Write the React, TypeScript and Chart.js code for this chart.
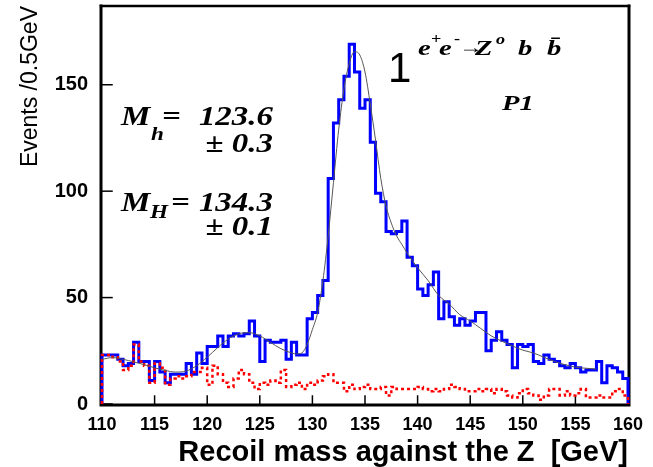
import React, { useEffect, useRef } from 'react';
import { Chart, registerables } from 'chart.js';

Chart.register(...registerables);

// ---- data ----
const BIN_START = 110;
const BIN_WIDTH = 0.5;
const X_MIN = 110;
const X_MAX = 160;
const Y_MAX = 187;
const X_STEP = 5;
const Y_STEP = 50;

// Events per 0.5 GeV bin, 110.0 ... 159.5 (signal + background, blue)
const signalCounts = [
  23, 23, 23, 21, 18, 19, 29, 20, 20, 11,
  20, 15, 10, 14, 14, 14, 19, 14, 24, 19,
  27, 27, 32, 27, 32, 33, 32, 33, 39, 32,
  20, 30, 29, 29, 30, 21, 29, 23, 23, 40,
  43, 51, 58, 106, 132, 143, 154, 169, 156, 139,
  143, 123, 99, 95, 81, 80, 81, 86, 69, 65,
  54, 51, 56, 62, 40, 48, 41, 37, 40, 37,
  39, 43, 43, 25, 30, 34, 30, 28, 17, 28,
  27, 28, 20, 19, 23, 21, 20, 18, 17, 19,
  17, 15, 16, 16, 20, 10, 18, 17, 15, 12,
];

// Background events per 0.5 GeV bin (red dotted)
const backgroundCounts = [
  23, 23, 22, 20, 16, 18, 28, 20, 18, 10,
  19, 17, 9, 12, 13, 12, 13, 15, 15, 17,
  9, 18, 14, 10, 8, 12, 16, 14, 10, 7,
  10, 9, 11, 10, 16, 8, 9, 10, 7, 10,
  9, 11, 13, 14, 10, 10, 6, 9, 7, 8,
  9, 7, 7, 8, 4, 8, 7, 7, 7, 7,
  8, 7, 6, 7, 6, 7, 9, 8, 7, 6,
  6, 7, 6, 7, 5, 7, 6, 4, 3, 5,
  7, 5, 4, 2, 4, 7, 7, 4, 6, 4,
  5, 7, 3, 3, 4, 3, 3, 6, 7, 4,
];

// Fit curve (thin line)
const fitMass = [
  110, 111, 112, 113, 114, 115, 116, 117, 118, 119,
  120, 121, 122, 123, 124, 125, 126, 127, 128, 128.5,
  129, 129.5, 130, 130.5, 131, 131.5, 132, 132.5, 133, 133.5,
  134, 134.5, 135, 135.5, 136, 136.5, 137, 137.5, 138, 138.5,
  139, 140, 141, 142, 143, 144, 145, 146, 147, 148,
  149, 150, 151, 152, 153, 154, 155, 156, 157,
];
const fitEvents = [
  21, 21.8, 21, 19.8, 18.5, 17, 15.8, 15, 15.5, 18,
  22, 26.5, 30.5, 33, 33.5, 32, 29, 26, 24, 23.5,
  24, 28, 35, 43, 58, 79, 104, 129, 148, 160,
  165.5, 164, 156, 141, 124, 106, 93, 85, 79, 75,
  71, 64, 58, 51, 47, 42, 39, 35.5, 32, 29.5,
  27.3, 25.3, 24, 22, 20, 18.5, 17.3, 16.8, 16.4,
];

const SANS = "'Liberation Sans', Arial, Helvetica, sans-serif";
const SERIF = "'Liberation Serif', 'Times New Roman', Times, serif";

function histogramPoints(counts: number[]) {
  const pts: { x: number; y: number }[] = [{ x: BIN_START, y: 0 }];
  counts.forEach((c, i) => pts.push({ x: BIN_START + i * BIN_WIDTH, y: c }));
  const end = BIN_START + counts.length * BIN_WIDTH;
  pts.push({ x: end, y: counts[counts.length - 1] });
  pts.push({ x: end, y: 0 });
  return pts;
}

const framePlugin = {
  id: 'frameAndTicks',
  beforeDatasetsDraw(chart: any) {
    const { ctx, chartArea: a, scales } = chart;
    ctx.save();
    ctx.strokeStyle = '#000';
    ctx.lineCap = 'square';
    ctx.lineWidth = 1.5;
    scales.x.ticks.forEach((t: any) => {
      const px = scales.x.getPixelForValue(t.value);
      ctx.beginPath();
      ctx.moveTo(px, a.bottom);
      ctx.lineTo(px, a.bottom - 8);
      ctx.stroke();
    });
    scales.y.ticks.forEach((t: any) => {
      const py = scales.y.getPixelForValue(t.value);
      ctx.beginPath();
      ctx.moveTo(a.left, py);
      ctx.lineTo(a.left + 10, py);
      ctx.stroke();
    });
    ctx.lineWidth = 3;
    ctx.beginPath();
    ctx.moveTo(a.left - 1, a.top);
    ctx.lineTo(a.left - 1, a.bottom + 1);
    ctx.lineTo(a.right + 1, a.bottom + 1);
    ctx.lineTo(a.right + 1, a.top);
    ctx.stroke();
    ctx.lineWidth = 2.5;
    ctx.beginPath();
    ctx.moveTo(a.left - 1, a.top);
    ctx.lineTo(a.right + 1, a.top);
    ctx.stroke();
    ctx.restore();
  },
  afterDraw(chart: any) {
    const ctx = chart.ctx;
    ctx.save();
    ctx.fillStyle = '#000';
    ctx.textBaseline = 'alphabetic';
    const put = (s: string, x: number, y: number, font: string, align: CanvasTextAlign = 'left', sx = 1) => {
      ctx.save();
      ctx.font = font;
      ctx.textAlign = align;
      ctx.translate(x, y);
      ctx.scale(sx, 1);
      ctx.fillText(s, 0, 0);
      ctx.restore();
    };
    const big = `italic bold 27px ${SERIF}`;
    const sub = `italic bold 19px ${SERIF}`;
    const S = 1.22;
    // M_h
    put('M', 121, 125, big, 'left', S);
    put('h', 151, 140, sub, 'left', S);
    put('=', 162, 125, big, 'left', S);
    put('123.6', 273, 125, big, 'right', S);
    put('\u00B1 0.3', 273, 152, big, 'right', S);
    // M_H
    put('M', 121, 211, big, 'left', S);
    put('H', 150, 218, sub, 'left', S);
    put('=', 171, 211, big, 'left', S);
    put('134.3', 273, 211, big, 'right', S);
    put('\u00B1 0.1', 273, 235, big, 'right', S);
    // process label
    put('1', 388, 82, `42px ${SANS}`);
    const T = 1.3;
    const proc = `italic bold 22px ${SERIF}`;
    const sup = `bold 14px ${SERIF}`;
    put('e', 418, 55, proc, 'left', T);
    put('+', 431, 43, sup, 'left', T);
    put('e', 439, 55, proc, 'left', T);
    put('-', 454, 43, sup, 'left', T);
    put('\u2192', 459, 53, `bold 18px ${SERIF}`, 'left', T);
    put('Z', 475, 55, proc, 'left', T);
    put('o', 496, 44, `italic bold 14px ${SERIF}`, 'left', T);
    put('b', 518, 55, proc, 'left', T);
    put('b\u0304', 547, 55, proc, 'left', T);
    put('P1', 502, 110, `italic bold 22px ${SERIF}`, 'left', T);
    ctx.restore();
  },
};

export default function App() {
  const ref = useRef<HTMLCanvasElement | null>(null);

  useEffect(() => {
    if (!ref.current) return;
    const zeroPad = (s: any) => {
      s.paddingTop = 0;
      s.paddingBottom = 0;
      s.paddingLeft = 0;
      s.paddingRight = 0;
    };
    const chart = new Chart(ref.current, {
      type: 'line',
      data: {
        datasets: [
          {
            label: 'fit',
            data: fitMass.map((m, i) => ({ x: m, y: fitEvents[i] })),
            borderColor: '#555555',
            borderWidth: 1,
            pointRadius: 0,
            cubicInterpolationMode: 'monotone',
            fill: false,
          },
          {
            label: 'background',
            data: histogramPoints(backgroundCounts),
            borderColor: '#ff0000',
            borderWidth: 2.5,
            borderDash: [3, 3],
            stepped: 'before',
            pointRadius: 0,
            fill: false,
            clip: 4,
          },
          {
            label: 'signal',
            data: histogramPoints(signalCounts),
            borderColor: '#0000ff',
            borderWidth: 3,
            stepped: 'before',
            pointRadius: 0,
            fill: false,
            clip: 4,
          },
        ],
      },
      options: {
        animation: false,
        responsive: false,
        devicePixelRatio: 1,
        layout: { padding: { left: 0, right: 25, top: 6, bottom: 0 } },
        plugins: { legend: { display: false }, tooltip: { enabled: false } },
        scales: {
          x: {
            type: 'linear',
            min: X_MIN,
            max: X_MAX,
            grid: { display: false, drawTicks: false },
            border: { display: false },
            ticks: {
              stepSize: X_STEP,
              color: '#000',
              padding: 10,
              font: { family: SANS, weight: 'bold', size: 18 },
              maxRotation: 0,
            },
            title: {
              display: true,
              text: 'Recoil mass against the Z  [GeV]',
              align: 'end',
              color: '#000',
              font: { family: SANS, weight: 'bold', size: 29, lineHeight: 1 },
              padding: { top: 0, bottom: 0 },
            },
            afterFit: (s: any) => { s.height = 63; zeroPad(s); },
          },
          y: {
            type: 'linear',
            min: 0,
            max: Y_MAX,
            grid: { display: false, drawTicks: false },
            border: { display: false },
            ticks: {
              stepSize: Y_STEP,
              includeBounds: false,
              color: '#000',
              padding: 14,
              font: { family: SANS, weight: 'bold', size: 20 },
            },
            title: {
              display: true,
              text: 'Events /0.5GeV',
              align: 'end',
              color: '#000',
              font: { family: SANS, size: 23 },
              padding: { top: 17, bottom: 0 },
            },
            afterFit: (s: any) => { s.width = 102; zeroPad(s); },
          },
        },
      },
      plugins: [framePlugin],
    } as any);
    return () => chart.destroy();
  }, []);

  return (
    <div style={{ position: 'fixed', left: 0, top: 0, width: 653, height: 467, background: '#fff' }}>
      <canvas ref={ref} width={653} height={467} style={{ display: 'block' }} />
    </div>
  );
}
